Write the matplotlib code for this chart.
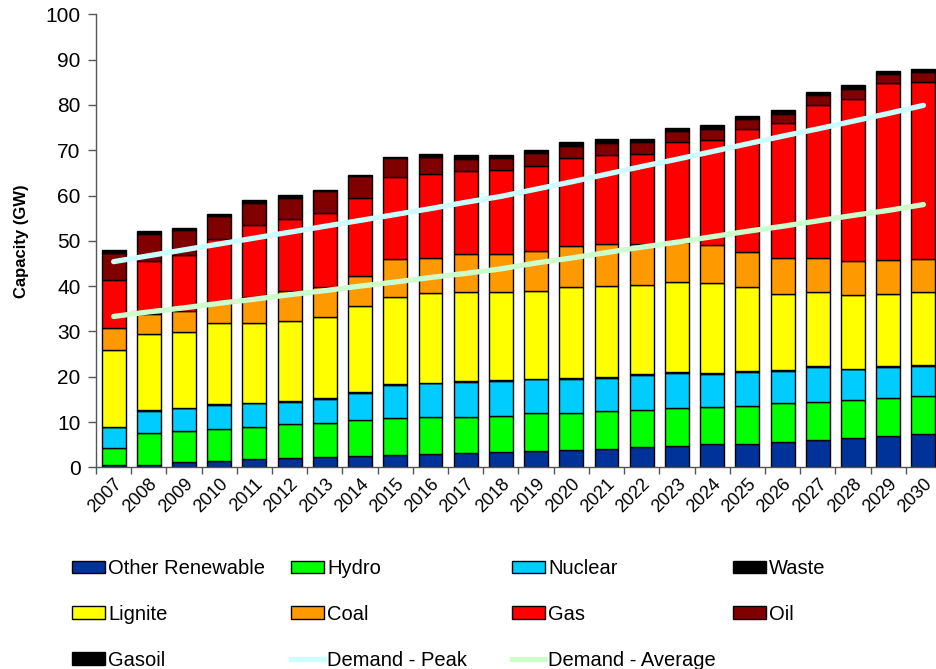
import numpy as np
import matplotlib
matplotlib.use('Agg')
import matplotlib.pyplot as plt
from matplotlib.patches import Patch
from matplotlib.lines import Line2D

plt.rcParams['font.family'] = ['Liberation Sans', 'DejaVu Sans']

years = [str(y) for y in range(2007, 2031)]

other_renewable = [0.4, 0.6, 1.2, 1.5, 1.8, 2.0, 2.3, 2.6, 2.8, 3.0, 3.2, 3.4,
                   3.6, 3.8, 4.0, 4.4, 4.7, 5.1, 5.2, 5.5, 6.1, 6.5, 6.9, 7.3]
hydro = [3.8, 6.9, 6.8, 6.9, 7.1, 7.5, 7.5, 7.9, 8.0, 8.0, 8.0, 8.0,
         8.3, 8.2, 8.4, 8.3, 8.4, 8.2, 8.3, 8.6, 8.4, 8.4, 8.4, 8.4]
nuclear = [4.6, 5.0, 5.0, 5.3, 5.2, 5.0, 5.2, 5.9, 7.4, 7.5, 7.6, 7.6,
           7.5, 7.6, 7.4, 7.6, 7.7, 7.4, 7.6, 7.2, 7.6, 6.7, 6.8, 6.6]
waste = [0.2] * 24
lignite = [16.9, 16.7, 16.6, 17.9, 17.5, 17.5, 17.9, 18.9, 19.1, 19.7, 19.6, 19.4,
           19.4, 19.9, 20.0, 19.8, 19.9, 19.7, 18.4, 16.8, 16.3, 16.3, 15.9, 16.1]
coal = [4.8, 4.4, 4.7, 4.5, 5.9, 6.8, 6.6, 6.8, 8.5, 7.9, 8.4, 8.4,
        8.8, 9.1, 9.2, 8.9, 8.9, 8.5, 7.9, 7.8, 7.7, 7.5, 7.5, 7.4]
gas = [10.7, 11.8, 12.4, 14.2, 15.8, 15.8, 16.5, 17.2, 18.1, 18.5, 18.3, 18.6,
       18.8, 19.5, 19.7, 20.0, 22.1, 23.2, 27.1, 29.8, 33.7, 35.8, 39.1, 39.1]
oil = [6.0, 5.9, 5.4, 4.9, 4.9, 4.7, 4.7, 4.7, 4.1, 3.7, 2.8, 2.6,
       2.7, 2.7, 2.7, 2.5, 2.3, 2.4, 2.1, 2.2, 2.2, 2.2, 2.1, 2.1]
gasoil = [0.6, 0.6, 0.5, 0.6, 0.5, 0.6, 0.4, 0.3, 0.3, 0.6, 0.8, 0.8,
          0.7, 0.7, 0.8, 0.8, 0.7, 0.8, 0.7, 0.7, 0.7, 0.7, 0.6, 0.7]

demand_peak = [45.4, 46.7, 48.0, 49.3, 50.6, 51.9, 53.2, 54.5, 55.8, 57.1, 58.5, 59.8,
               61.4, 63.0, 64.7, 66.4, 68.0, 69.7, 71.4, 73.1, 74.7, 76.4, 78.1, 79.9]
demand_avg = [33.3, 34.3, 35.2, 36.2, 37.1, 38.1, 39.0, 40.0, 40.9, 41.9, 42.8, 43.8,
              45.1, 46.2, 47.4, 48.6, 49.7, 50.9, 52.1, 53.2, 54.4, 55.6, 56.7, 58.0]

series = [
    ('Other Renewable', other_renewable, '#003399'),
    ('Hydro', hydro, '#00FF00'),
    ('Nuclear', nuclear, '#00CCFF'),
    ('Waste', waste, '#000000'),
    ('Lignite', lignite, '#FFFF00'),
    ('Coal', coal, '#FF9900'),
    ('Gas', gas, '#FF0000'),
    ('Oil', oil, '#800000'),
    ('Gasoil', gasoil, '#000000'),
]
peak_color = '#CCFFFF'
avg_color = '#CCFFCC'

fig = plt.figure(figsize=(9.37, 6.69), dpi=100)
ax = fig.add_axes([96 / 937, 1 - 467.3 / 669, 845 / 937, 453 / 669])

x = np.arange(len(years))
bottom = np.zeros(len(years))
for name, vals, col in series:
    ax.bar(x, vals, width=0.68, bottom=bottom, color=col,
           edgecolor='black', linewidth=1.0, zorder=2)
    bottom += np.array(vals)

ax.plot(x, demand_peak, color=peak_color, linewidth=3.8,
        solid_capstyle='round', zorder=3)
ax.plot(x, demand_avg, color=avg_color, linewidth=3.8,
        solid_capstyle='round', zorder=3)

ax.set_xlim(-0.5, 23.5)
ax.set_ylim(0, 100)
ax.set_yticks(range(0, 101, 10))
ax.tick_params(axis='y', labelsize=15, length=6, width=1, color='#555555', pad=5)
ax.set_xticks(x)
ax.set_xticklabels(years, rotation=45, ha='right', va='top',
                   rotation_mode='anchor', fontsize=13)
ax.set_xticks(np.arange(-0.5, 24, 1), minor=True)
ax.tick_params(axis='x', which='major', length=0, pad=6)
ax.tick_params(axis='x', which='minor', length=5, width=1, color='#555555')

for s in ['top', 'right']:
    ax.spines[s].set_visible(False)
for s in ['left', 'bottom']:
    ax.spines[s].set_color('#555555')
    ax.spines[s].set_linewidth(1)

ax.set_ylabel('Capacity (GW)', fontsize=12, fontweight='bold', labelpad=12)

# legend laid out as four columns, filled row by row
handles = {name: Patch(facecolor=col, edgecolor='black', linewidth=1.0)
           for name, vals, col in series}
handles['Demand - Peak'] = Line2D([], [], color=peak_color, linewidth=3.8)
handles['Demand - Average'] = Line2D([], [], color=avg_color, linewidth=3.8)
columns = [
    ['Other Renewable', 'Lignite', 'Gasoil'],
    ['Hydro', 'Coal', 'Demand - Peak'],
    ['Nuclear', 'Gas', 'Demand - Average'],
    ['Waste', 'Oil'],
]
col_x = [72, 291, 512, 733]
for cx, names in zip(col_x, columns):
    fig.legend([handles[n] for n in names], names,
               loc='upper left', bbox_to_anchor=(cx / 937, 1 - 559 / 669),
               frameon=False, fontsize=14.5, handlelength=1.65, handleheight=0.6,
               handletextpad=0.15, labelspacing=1.33, borderpad=0,
               borderaxespad=0)

fig.savefig('out.png', dpi=100)
